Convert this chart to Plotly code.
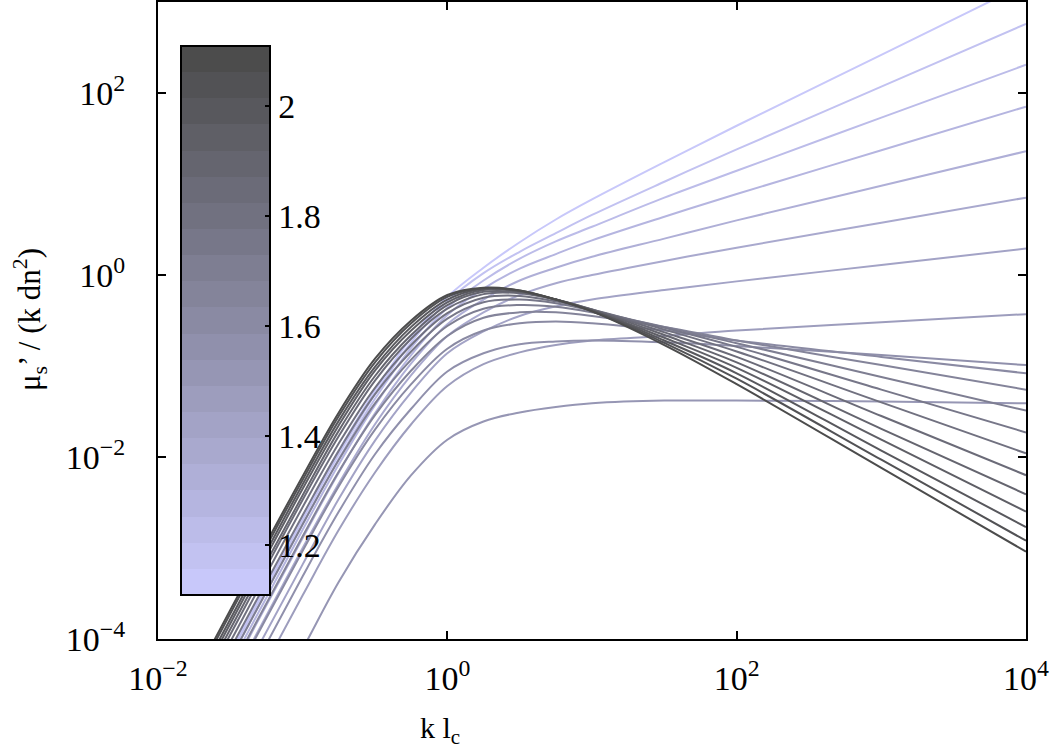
import plotly.graph_objects as go

LOG_KL = [-2, -1.5, -1, -0.75, -0.5, -0.25, 0, 0.25, 0.5, 0.75, 1, 1.5, 2, 3, 4]

# curve parameter (colour axis), light -> dark
PARAM = [1.11, 1.16, 1.21, 1.26, 1.31, 1.36, 1.41, 1.46, 1.51, 1.56, 1.61,
         1.66, 1.71, 1.76, 1.81, 1.86, 1.91, 1.96, 2.01, 2.06, 2.11]

# log10( mu_s' / (k dn^2) ) read at LOG_KL, one list per curve (same order as PARAM)
C00 = [-5.64, -4.14, -2.65, -1.93, -1.27, -0.69, -0.24, 0.08, 0.36, 0.61, 0.83, 1.24, 1.64, 2.42, 3.20]
C01 = [-5.67, -4.17, -2.69, -1.97, -1.31, -0.74, -0.29, 0.02, 0.255, 0.46, 0.66, 1.025, 1.38, 2.07, 2.76]
C02 = [-5.72, -4.22, -2.74, -2.02, -1.36, -0.80, -0.36, -0.06, 0.18, 0.37, 0.53, 0.85, 1.145, 1.73, 2.31]
C03 = [-5.79, -4.29, -2.80, -2.08, -1.43, -0.88, -0.44, -0.15, 0.07, 0.23, 0.38, 0.64, 0.89, 1.37, 1.85]
C04 = [-5.87, -4.37, -2.89, -2.17, -1.52, -0.97, -0.54, -0.27, -0.06, 0.08, 0.20, 0.40, 0.60, 0.98, 1.36]
C05 = [-5.99, -4.49, -3.00, -2.29, -1.64, -1.10, -0.67, -0.41, -0.22, -0.09, 0.00, 0.155, 0.30, 0.575, 0.85]
C06 = [-6.16, -4.66, -3.18, -2.46, -1.82, -1.29, -0.86, -0.62, -0.45, -0.345, -0.27, -0.165, -0.07, 0.11, 0.29]
C07 = [-6.50, -5.00, -3.52, -2.80, -2.17, -1.64, -1.22, -0.98, -0.85, -0.77, -0.72, -0.67, -0.61, -0.52, -0.43]
C08 = [-7.09, -5.59, -4.11, -3.37, -2.74, -2.20, -1.81, -1.61, -1.51, -1.45, -1.41, -1.38, -1.38, -1.39, -1.41]
C09 = [-6.30, -4.80, -3.31, -2.60, -1.97, -1.47, -1.06, -0.86, -0.76, -0.73, -0.72, -0.74, -0.78, -0.88, -0.99]
C10 = [-6.01, -4.51, -3.03, -2.32, -1.70, -1.20, -0.81, -0.61, -0.53, -0.51, -0.53, -0.61, -0.72, -0.90, -1.08]
C11 = [-5.85, -4.35, -2.87, -2.16, -1.54, -1.05, -0.67, -0.47, -0.41, -0.41, -0.45, -0.57, -0.72, -0.99, -1.26]
C12 = [-5.72, -4.22, -2.74, -2.03, -1.41, -0.93, -0.56, -0.37, -0.33, -0.35, -0.41, -0.57, -0.75, -1.12, -1.49]
C13 = [-5.61, -4.11, -2.64, -1.93, -1.31, -0.84, -0.48, -0.30, -0.27, -0.31, -0.39, -0.58, -0.79, -1.26, -1.73]
C14 = [-5.53, -4.03, -2.55, -1.85, -1.24, -0.77, -0.42, -0.25, -0.23, -0.29, -0.38, -0.60, -0.84, -1.40, -1.96]
C15 = [-5.45, -3.95, -2.47, -1.77, -1.16, -0.70, -0.37, -0.21, -0.20, -0.27, -0.38, -0.63, -0.90, -1.55, -2.20]
C16 = [-5.39, -3.89, -2.42, -1.71, -1.11, -0.66, -0.33, -0.185, -0.19, -0.27, -0.38, -0.66, -0.96, -1.69, -2.41]
C17 = [-5.33, -3.83, -2.35, -1.65, -1.05, -0.61, -0.30, -0.165, -0.18, -0.27, -0.39, -0.69, -1.02, -1.81, -2.60]
C18 = [-5.28, -3.78, -2.30, -1.60, -1.01, -0.57, -0.27, -0.15, -0.175, -0.27, -0.39, -0.72, -1.08, -1.93, -2.77]
C19 = [-5.22, -3.72, -2.25, -1.55, -0.96, -0.53, -0.24, -0.145, -0.17, -0.27, -0.40, -0.745, -1.14, -2.03, -2.92]
C20 = [-5.18, -3.68, -2.21, -1.51, -0.92, -0.50, -0.22, -0.14, -0.17, -0.27, -0.40, -0.77, -1.20, -2.12, -3.04]

CURVES = [C00, C01, C02, C03, C04, C05, C06, C07, C08, C09, C10,
          C11, C12, C13, C14, C15, C16, C17, C18, C19, C20]

CBAR_TICKS = [1.2, 1.4, 1.6, 1.8, 2.0]
CBAR_LABELS = ["1.2", "1.4", "1.6", "1.8", "2"]

X_TICKS = [1e-2, 1e0, 1e2, 1e4]
X_LABELS = ["10<sup>\u22122</sup>", "10<sup>0</sup>", "10<sup>2</sup>", "10<sup>4</sup>"]
Y_TICKS = [1e-4, 1e-2, 1e0, 1e2]
Y_LABELS = ["10<sup>\u22124</sup>", "10<sup>\u22122</sup>", "10<sup>0</sup>", "10<sup>2</sup>"]

SERIF = "Liberation Serif, Times New Roman, serif"
LIGHT = (200, 200, 250)   # lavender end of the colormap
DARK = (76, 76, 76)       # grey end

# plot box in figure pixels
L, R, T, B = 158, 1026, 2, 639
W, H = 1050, 755


def _map_color(i, n):
    t = i / (n - 1)
    r, g, b = (round(LIGHT[k] + (DARK[k] - LIGHT[k]) * t) for k in range(3))
    return f"rgb({r},{g},{b})"


n = len(PARAM)
colors = [_map_color(i, n) for i in range(n)]

# stepped colorscale -> one band per curve, like the MATLAB colorbar
scale = []
for i, c in enumerate(colors):
    scale.append([i / n, c])
    scale.append([(i + 1) / n, c])

kl = [10 ** v for v in LOG_KL]

fig = go.Figure()
for curve, col in zip(CURVES, colors):
    fig.add_trace(go.Scatter(
        x=kl,
        y=[10 ** v for v in curve],
        mode="lines",
        line=dict(color=col, width=2, shape="spline", smoothing=1.0),
        showlegend=False,
        hoverinfo="skip",
    ))

pw, ph = R - L, B - T

# colorbar only
fig.add_trace(go.Scatter(
    x=[None], y=[None], mode="markers", showlegend=False,
    marker=dict(
        color=[PARAM[0]], cmin=PARAM[0], cmax=PARAM[-1], colorscale=scale,
        showscale=True,
        colorbar=dict(
            thickness=89, thicknessmode="pixels",
            len=549, lenmode="pixels",
            x=(181 - L) / pw, xanchor="left",
            y=(B - 320.4) / ph, yanchor="middle",
            xpad=0, ypad=0,
            outlinewidth=2, outlinecolor="black",
            tickvals=CBAR_TICKS, ticktext=CBAR_LABELS,
            ticks="inside", ticklen=6, tickwidth=1.5, tickcolor="black",
            tickfont=dict(family=SERIF, size=34, color="black"),
        ),
    ),
))

axis_common = dict(
    type="log",
    showgrid=False,
    zeroline=False,
    showline=True,
    linecolor="black",
    linewidth=2,
    mirror="allticks",
    ticks="inside",
    ticklen=8,
    tickwidth=1.5,
    tickcolor="black",
    tickfont=dict(family=SERIF, size=34, color="black"),
)

fig.update_layout(
    width=W,
    height=H,
    margin=dict(l=L, r=W - R, t=T, b=H - B, autoexpand=False),
    plot_bgcolor="white",
    paper_bgcolor="white",
    xaxis=dict(axis_common, range=[-2, 4], tickvals=X_TICKS, ticktext=X_LABELS,
               ticklabelstandoff=8),
    yaxis=dict(axis_common, range=[-4, 3], tickvals=Y_TICKS, ticktext=Y_LABELS,
               ticklabelstandoff=24),
    annotations=[
        dict(text="k l<sub>c</sub>", x=(440 - L) / pw, y=-(730 - B) / ph,
             xref="paper", yref="paper", xanchor="center", yanchor="middle",
             showarrow=False, font=dict(family=SERIF, size=30, color="black")),
        dict(text="\u03bc<sub>s</sub>\u2019 / (k dn<sup>2</sup>)",
             x=(30 - L) / pw, y=(B - 320) / ph,
             xref="paper", yref="paper", xanchor="center", yanchor="middle",
             textangle=-90, showarrow=False,
             font=dict(family=SERIF, size=31, color="black")),
    ],
)

# the page body has a default 8px margin; drop it so the figure sits at 0,0
fig.write_html("out.html", config={"displayModeBar": False},
               post_script="document.body.style.margin='0';")
